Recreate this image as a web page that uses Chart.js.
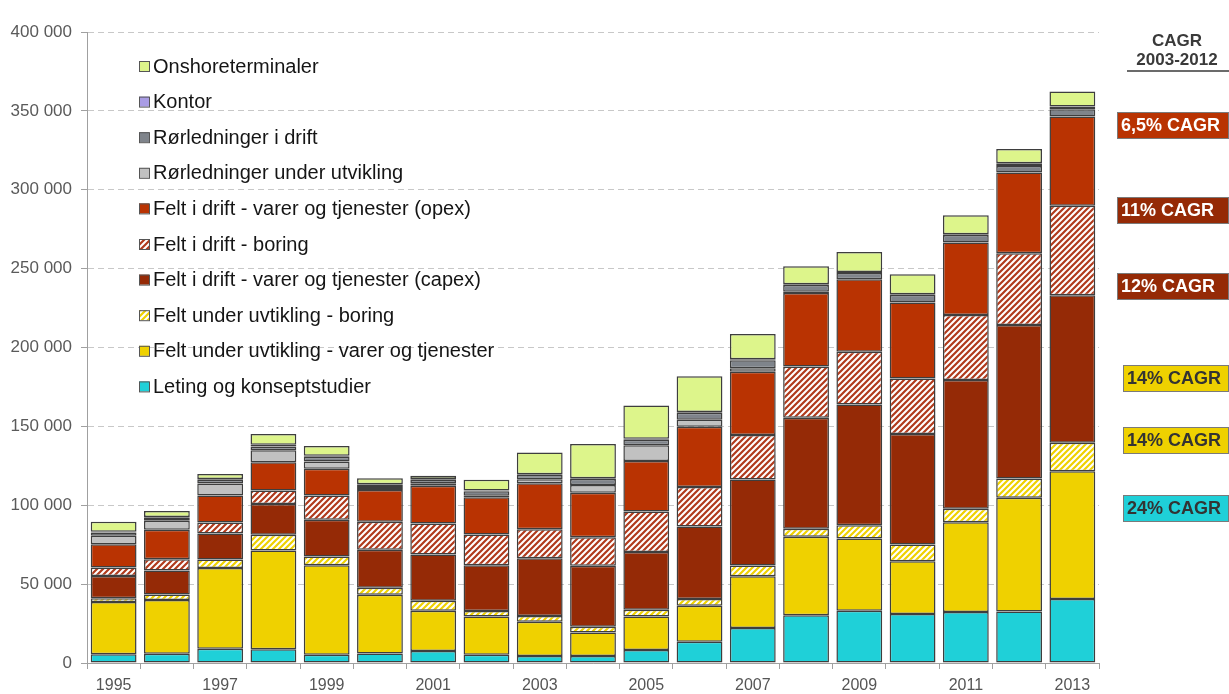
<!DOCTYPE html>
<html>
<head>
<meta charset="utf-8">
<script src="https://cdn.jsdelivr.net/npm/chart.js@4"></script>
<style>
  body { margin: 0; background: #fff; }
  #wrap { width: 1229px; height: 694px; position: relative; }
</style>
</head>
<body>
<div id="wrap"><canvas id="chart"></canvas></div>
<script>
// Years on the x axis
const years = ['1995','1996','1997','1998','1999','2000','2001','2002','2003','2004',
               '2005','2006','2007','2008','2009','2010','2011','2012','2013'];

// Series (bottom to top of each stack)
const leting      = [5500, 5900, 9100, 8700, 5300, 6100, 7600, 5300, 4400, 4400, 8300, 13500, 22200, 30200, 33200, 31100, 32400, 32700, 40600];
const feltUuVarer = [33200, 34100, 51200, 62600, 56700, 37200, 25600, 24100, 21800, 15000, 21100, 22800, 32800, 49800, 45700, 33400, 56900, 72000, 81000];
const feltUuBoring= [2300, 3400, 5300, 10000, 5500, 4400, 6200, 3600, 3600, 3600, 4300, 4300, 6800, 5100, 8400, 10600, 8500, 12200, 18000];
const capex       = [14200, 15200, 16500, 19500, 23300, 24100, 29400, 29000, 36600, 38700, 36600, 45900, 54600, 70400, 76600, 70000, 81600, 97300, 93500];
const driftBoring = [5300, 7200, 7000, 8600, 15400, 17800, 19700, 19400, 18400, 18000, 25800, 25000, 28100, 32400, 33400, 35200, 41200, 45500, 56700];
const opex        = [14800, 18600, 17100, 17800, 16900, 20100, 23900, 23700, 29200, 28300, 32000, 38300, 40200, 46600, 45900, 48200, 45900, 51200, 56700];
const rorUnder    = [5300, 5700, 7600, 7600, 4600, 1200, 1500, 1000, 2500, 4900, 9900, 4400, 2100, 800, 0, 0, 0, 0, 0];
const rorDrift    = [2100, 2000, 2300, 2500, 3000, 1900, 2200, 2700, 2700, 3700, 3600, 4400, 5100, 4300, 4100, 4800, 4800, 4200, 4600];
const kontor      = [500, 500, 500, 1100, 600, 500, 500, 500, 500, 500, 500, 500, 600, 500, 500, 500, 500, 1700, 1700];
const onshore     = [6300, 3800, 3200, 6800, 6200, 3800, 2100, 6800, 13700, 21800, 21100, 22600, 16100, 11400, 12700, 12700, 12100, 9100, 9500];

const seriesNames = [
  'Leting og konseptstudier',
  'Felt under uvtikling - varer og tjenester',
  'Felt under uvtikling - boring',
  'Felt i drift - varer og tjenester (capex)',
  'Felt i drift - boring',
  'Felt i drift - varer og tjenester (opex)',
  'Rørledninger under utvikling',
  'Rørledninger i drift',
  'Kontor',
  'Onshoreterminaler'
];

// CAGR labels at the right
const cagrTitle = ['CAGR', '2003-2012'];
const cagrLabels = ['6,5% CAGR', '11% CAGR', '12% CAGR', '14% CAGR', '14% CAGR', '24% CAGR'];

const COLORS = {
  leting: '#1FD0D8',
  fuv: '#EFD100',
  capex: '#952A06',
  boring: '#B03A1C',
  opex: '#B93302',
  rorUnder: '#C1C1C1',
  rorDrift: '#7F848B',
  kontor: '#A99CE4',
  onshore: '#DDF58B',
};

function makeHatch(color) {
  const s = 6;
  const c = document.createElement('canvas');
  c.width = s; c.height = s;
  const g = c.getContext('2d');
  g.fillStyle = '#fff';
  g.fillRect(0, 0, s, s);
  g.strokeStyle = color;
  g.lineWidth = 2.2;
  g.beginPath();
  g.moveTo(0, s); g.lineTo(s, 0);
  g.moveTo(-s / 2, s / 2); g.lineTo(s / 2, -s / 2);
  g.moveTo(s / 2, s * 1.5); g.lineTo(s * 1.5, s / 2);
  g.stroke();
  return g.createPattern(c, 'repeat');
}

const hatchRed = makeHatch(COLORS.boring);
const hatchYellow = makeHatch(COLORS.fuv);

const fills = [COLORS.leting, COLORS.fuv, hatchYellow, COLORS.capex, hatchRed,
               COLORS.opex, COLORS.rorUnder, COLORS.rorDrift, COLORS.kontor, COLORS.onshore];
const seriesData = [leting, feltUuVarer, feltUuBoring, capex, driftBoring,
                    opex, rorUnder, rorDrift, kontor, onshore];

const datasets = seriesData.map((d, i) => ({
  label: seriesNames[i],
  data: d,
  backgroundColor: fills[i],
  borderColor: '#3e3e3e',
  borderWidth: 1.5,
  borderSkipped: false,
  barPercentage: 0.86,
  categoryPercentage: 1,
}));

const FONT = "'Liberation Sans', Arial, sans-serif";

// Legend drawn inside the plot, top item first
const legendPlugin = {
  id: 'insideLegend',
  afterDraw(chart) {
    const ctx = chart.ctx;
    ctx.save();
    ctx.font = '20px ' + FONT;
    ctx.textBaseline = 'middle';
    const order = [...datasets.keys()].reverse();
    order.forEach((idx, row) => {
      const y = 66 + row * 35.6;
      ctx.fillStyle = fills[idx];
      ctx.fillRect(139, y - 5, 10, 10);
      ctx.strokeStyle = '#555';
      ctx.lineWidth = 1;
      ctx.strokeRect(139.5, y - 4.5, 10, 10);
      ctx.fillStyle = '#151515';
      ctx.fillText(seriesNames[idx], 153, y + 1);
    });
    ctx.restore();
  }
};

// CAGR header and boxes at the right
const cagrPlugin = {
  id: 'cagrBoxes',
  afterDraw(chart) {
    const ctx = chart.ctx;
    ctx.save();
    ctx.font = 'bold 17px ' + FONT;
    ctx.fillStyle = '#3a3a3a';
    ctx.textAlign = 'center';
    ctx.textBaseline = 'middle';
    ctx.fillText(cagrTitle[0], 1177, 41);
    ctx.fillText(cagrTitle[1], 1177, 60);
    ctx.strokeStyle = '#3a3a3a';
    ctx.lineWidth = 1.5;
    ctx.beginPath();
    ctx.moveTo(1127, 71); ctx.lineTo(1229, 71);
    ctx.stroke();

    const boxes = [
      { y: 112, x: 1117, bg: COLORS.opex, fg: '#fff' },
      { y: 197, x: 1117, bg: COLORS.capex, fg: '#fff' },
      { y: 273, x: 1117, bg: COLORS.capex, fg: '#fff' },
      { y: 365, x: 1123, bg: COLORS.fuv, fg: '#333' },
      { y: 427, x: 1123, bg: COLORS.fuv, fg: '#333' },
      { y: 495, x: 1123, bg: COLORS.leting, fg: '#333' },
    ];
    ctx.font = 'bold 18px ' + FONT;
    ctx.textAlign = 'left';
    boxes.forEach((b, i) => {
      const w = 1228 - b.x, h = 26;
      ctx.fillStyle = b.bg;
      ctx.fillRect(b.x, b.y, w, h);
      ctx.strokeStyle = '#7a7a7a';
      ctx.lineWidth = 1;
      ctx.strokeRect(b.x + 0.5, b.y + 0.5, w, h);
      ctx.fillStyle = b.fg;
      ctx.fillText(cagrLabels[i], b.x + 4, b.y + h / 2 + 1);
    });
    ctx.restore();
  }
};

new Chart(document.getElementById('chart'), {
  type: 'bar',
  data: { labels: years, datasets },
  options: {
    responsive: true,
    maintainAspectRatio: false,
    animation: false,
    layout: { padding: { top: 32, right: 130, left: 0, bottom: 0 } },
    plugins: {
      legend: { display: false },
      tooltip: { enabled: false },
    },
    scales: {
      x: {
        stacked: true,
        afterFit: (s) => { s.height = 31; },
        grid: { offset: true, drawOnChartArea: false, drawTicks: true, tickLength: 6, color: '#a0a0a0' },
        border: { color: '#a0a0a0', width: 1 },
        ticks: {
          autoSkip: false,
          maxRotation: 0,
          color: '#555',
          font: { family: FONT, size: 16 },
          padding: 7,
          callback: (v, i) => (i % 2 === 0 ? years[i] : ''),
        },
      },
      y: {
        stacked: true,
        min: 0,
        max: 400000,
        afterFit: (s) => { s.width = 87; },
        grid: { color: '#c8c8c8', tickLength: 6, tickColor: '#a0a0a0', tickBorderDash: [] },
        border: { color: '#a0a0a0', width: 1, dash: [6, 4] },
        ticks: {
          stepSize: 50000,
          color: '#5a5a5a',
          font: { family: FONT, size: 17 },
          padding: 9,
          callback: (v) => v === 0 ? '0' : (v / 1000) + ' 000',
        },
      },
    },
  },
  plugins: [legendPlugin, cagrPlugin],
});
</script>
</body>
</html>
